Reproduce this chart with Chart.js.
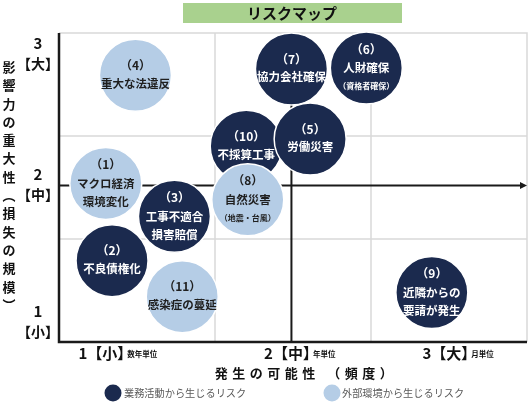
<!DOCTYPE html>
<html lang="ja">
<head>
<meta charset="utf-8">
<title>リスクマップ</title>
<script src="https://cdn.jsdelivr.net/npm/chart.js@4.4.1/dist/chart.umd.min.js"></script>
<style>
  html, body { margin: 0; padding: 0; background: #fff; }
  #wrap { width: 529px; height: 405px; }
</style>
</head>
<body>
<div id="wrap"><canvas id="riskMap" width="529" height="405"></canvas></div>
<script>
const titleText = 'リスクマップ';
const xTitle = '発生の可能性 （頻度）';
const yTitle = ['影', '響', '力', 'の', '重', '大', '性', '︵', '損', '失', 'の', '規', '模', '︶'];

// 横軸・縦軸の目盛り（3段階）
const xTickMain = ['1【小】', '2【中】', '3【大】'];
const xTickSub = ['数年単位', '年単位', '月単位'];
const xTickAt = [0.47, 1.66, 2.675];
const yTickNum = ['3', '2', '1'];
const yTickWord = ['【大】', '【中】', '【小】'];
const yTickAt = [2.8, 1.53, 0.2];

// リスク一覧
const riskNo = ['（1）', '（2）', '（3）', '（4）', '（5）', '（6）', '（7）', '（8）', '（9）', '（10）', '（11）'];
const riskName = [
    ['マクロ経済', '環境変化'],
    ['不良債権化'],
    ['工事不適合', '損害賠償'],
    ['重大な法違反'],
    ['労働災害'],
    ['人財確保'],
    ['協力会社確保'],
    ['自然災害'],
    ['近隣からの', '要請が発生'],
    ['不採算工事'],
    ['感染症の蔓延']
];
const riskNote = ['', '', '', '', '', '（資格者確保）', '', '（地震・台風）', '', '', ''];
const riskType = ['external', 'internal', 'internal', 'external', 'internal', 'internal', 'internal', 'external', 'internal', 'internal', 'external'];
const frequency = [0.30, 0.34, 0.74, 0.49, 1.61, 1.97, 1.49, 1.21, 2.39, 1.20, 0.79];
const impact = [1.54, 0.79, 1.22, 2.59, 1.97, 2.66, 2.65, 1.38, 0.48, 1.90, 0.44];

const legendText = { internal: '業務活動から生じるリスク', external: '外部環境から生じるリスク' };

const DARK = '#1b2a4e';
const LIGHT = '#b5cde6';
const JP = '"Noto Sans CJK JP", "Noto Sans", sans-serif';
const CROSS_X = 1.49;
const CROSS_Y = 1.52;

function pointsFor(type) {
    const pts = [];
    // draw later ones first so (5) sits over (10)
    for (let i = riskNo.length - 1; i >= 0; i--) {
        if (riskType[i] !== type) continue;
        pts.push({ x: frequency[i], y: impact[i], r: 36, idx: i });
    }
    return pts;
}

const mapPlugin = {
    id: 'riskMapDecor',
    beforeDatasetsDraw(chart) {
        const { ctx, chartArea: a, scales: { x, y } } = chart;
        ctx.save();

        // grid
        ctx.strokeStyle = '#d9d9d9';
        ctx.lineWidth = 1.5;
        ctx.beginPath();
        [1, 2].forEach(v => {
            const px = x.getPixelForValue(v);
            ctx.moveTo(px, a.top); ctx.lineTo(px, a.bottom);
            const py = y.getPixelForValue(v);
            ctx.moveTo(a.left, py); ctx.lineTo(a.right, py);
        });
        ctx.moveTo(a.left, a.top); ctx.lineTo(a.right, a.top);
        ctx.lineTo(a.right, a.bottom);
        ctx.stroke();

        // outer axes
        ctx.strokeStyle = '#1a1a1a';
        ctx.lineWidth = 2.5;
        ctx.beginPath();
        ctx.moveTo(a.left, a.top); ctx.lineTo(a.left, a.bottom); ctx.lineTo(a.right, a.bottom);
        ctx.stroke();

        // centre cross
        const cx = x.getPixelForValue(CROSS_X);
        const cy = y.getPixelForValue(CROSS_Y);
        ctx.lineWidth = 2;
        ctx.beginPath();
        ctx.moveTo(cx, a.top); ctx.lineTo(cx, a.bottom);
        ctx.moveTo(a.left, cy); ctx.lineTo(a.right - 5, cy);
        ctx.stroke();
        ctx.fillStyle = '#1a1a1a';
        ctx.beginPath();
        ctx.moveTo(a.right, cy); ctx.lineTo(a.right - 7, cy - 3.5); ctx.lineTo(a.right - 7, cy + 3.5);
        ctx.closePath();
        ctx.fill();
        ctx.restore();
    },
    afterDatasetsDraw(chart) {
        const { ctx } = chart;
        ctx.save();
        ctx.textAlign = 'center';
        ctx.textBaseline = 'middle';
        chart.data.datasets.forEach((ds, di) => {
            const meta = chart.getDatasetMeta(di);
            meta.data.forEach((el, j) => {
                const i = ds.data[j].idx;
                const lines = [{ t: riskNo[i], f: 'bold 12px ' + JP }];
                riskName[i].forEach(t => lines.push({ t, f: 'bold 11.5px ' + JP }));
                if (riskNote[i]) lines.push({ t: riskNote[i], f: 'bold 8px ' + JP });
                const offs = lines.length === 2 ? [-10, 8] : [-19, 0, 18];
                ctx.fillStyle = riskType[i] === 'internal' ? '#ffffff' : '#1f1f1f';
                lines.forEach((ln, k) => {
                    ctx.font = ln.f;
                    ctx.fillText(ln.t, el.x, el.y + offs[k]);
                });
            });
        });
        ctx.restore();
    },
    afterDraw(chart) {
        const { ctx, chartArea: a, scales: { x, y } } = chart;
        ctx.save();

        // title box
        ctx.fillStyle = '#a9d18e';
        ctx.fillRect(183, 3, 219, 20);
        ctx.fillStyle = '#111';
        ctx.font = 'bold 15px ' + JP;
        ctx.textAlign = 'center';
        ctx.textBaseline = 'middle';
        ctx.fillText(titleText, 292, 13.5);

        // x ticks
        ctx.textBaseline = 'middle';
        xTickMain.forEach((t, i) => {
            const px = x.getPixelForValue(xTickAt[i]);
            ctx.fillStyle = '#111';
            ctx.font = 'bold 15px ' + JP;
            ctx.textAlign = 'right';
            ctx.fillText(t, px, a.bottom + 11);
            ctx.font = 'bold 7.5px ' + JP;
            ctx.textAlign = 'left';
            ctx.fillText(xTickSub[i], px - 5, a.bottom + 12);
        });

        // y ticks
        ctx.textAlign = 'center';
        yTickNum.forEach((t, i) => {
            const py = y.getPixelForValue(yTickAt[i]);
            ctx.fillStyle = '#111';
            ctx.font = 'bold 15px ' + JP;
            ctx.fillText(t, 38, py - 10);
            ctx.font = 'bold 14px ' + JP;
            ctx.fillText(yTickWord[i], 38, py + 10);
        });

        // y title (vertical)
        ctx.font = 'bold 13px ' + JP;
        yTitle.forEach((c, i) => {
            ctx.fillText(c, 9, 67 + i * 18.3);
        });

        // x title
        ctx.font = 'bold 13px ' + JP;
        ctx.letterSpacing = '4.5px';
        ctx.fillText(xTitle, 306, 373);
        ctx.letterSpacing = '0px';

        // legend
        const items = [
            { type: 'internal', color: DARK, cx: 113, tx: 124 },
            { type: 'external', color: LIGHT, cx: 332, tx: 342 }
        ];
        items.forEach(it => {
            ctx.fillStyle = it.color;
            ctx.beginPath();
            ctx.arc(it.cx, 393, 8.5, 0, Math.PI * 2);
            ctx.fill();
            ctx.fillStyle = '#595959';
            ctx.font = '10.2px ' + JP;
            ctx.textAlign = 'left';
            ctx.fillText(legendText[it.type], it.tx, 393);
        });
        ctx.restore();
    }
};

new Chart(document.getElementById('riskMap'), {
    type: 'bubble',
    data: {
        datasets: [
            {
                label: legendText.external,
                data: pointsFor('external'),
                backgroundColor: LIGHT,
                borderColor: '#ffffff',
                borderWidth: 1.5,
                clip: false
            },
            {
                label: legendText.internal,
                data: pointsFor('internal'),
                backgroundColor: DARK,
                borderColor: '#ffffff',
                borderWidth: 1.5,
                clip: false
            }
        ]
    },
    options: {
        responsive: false,
        animation: false,
        layout: { autoPadding: false, padding: { left: 59, top: 33, right: 2, bottom: 63 } },
        scales: {
            x: { type: 'linear', min: 0, max: 3, display: false },
            y: { type: 'linear', min: 0, max: 3, display: false }
        },
        plugins: {
            legend: { display: false },
            tooltip: { enabled: false }
        }
    },
    plugins: [mapPlugin]
});
</script>
</body>
</html>
